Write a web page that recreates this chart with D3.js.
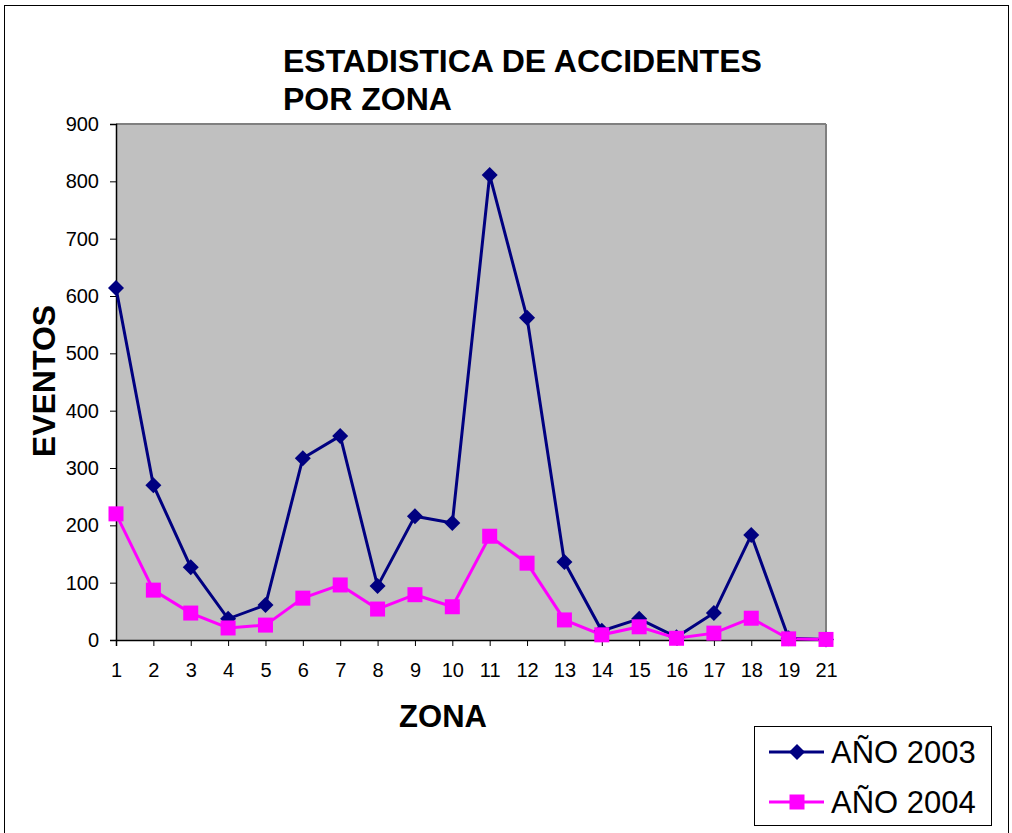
<!DOCTYPE html>
<html><head><meta charset="utf-8">
<script src="https://cdn.jsdelivr.net/npm/d3@7"></script>
<style>body{margin:0;background:#fff}svg{display:block}text{font-family:"Liberation Sans",Arial,sans-serif}</style>
</head><body>
<script>
const zonas = ["1","2","3","4","5","6","7","8","9","10","11","12","13","14","15","16","17","18","19","21"];
const anio2003 = [614,270,127,37,61,317,356,94,216,204,811,562,136,16,37,5,47,183,3,1];
const anio2004 = [220,87,47,21,26,73,96,54,79,58,181,134,35,9,23,3,12,38,2,1];
const yTicks = [0,100,200,300,400,500,600,700,800,900];
const seriesNames = ["AÑO 2003","AÑO 2004"];
const colors = ["#000080","#FF00FF"];

const W=1012,H=833;
const svg=d3.select("body").append("svg").attr("width",W).attr("height",H);
svg.append("rect").attr("x",4.5).attr("y",5.5).attr("width",1004).attr("height",840).attr("fill","#fff").attr("stroke","#000").attr("stroke-width",1);

const L=116,R=826,T=124,B=640;
const x=d3.scalePoint().domain(zonas).range([L,R]).padding(0);
const y=d3.scaleLinear().domain([0,900]).range([B,T]);

svg.append("rect").attr("x",L).attr("y",T).attr("width",R-L).attr("height",B-T).attr("fill","#C0C0C0");
svg.append("line").attr("x1",L).attr("x2",R).attr("y1",T).attr("y2",T).attr("stroke","#808080").attr("stroke-width",2);
svg.append("line").attr("x1",R).attr("x2",R).attr("y1",T).attr("y2",B).attr("stroke","#808080").attr("stroke-width",2);

const ya=svg.append("g").attr("transform",`translate(${L},0)`)
  .call(d3.axisLeft(y).tickValues(yTicks).tickSize(6).tickPadding(11));
ya.select(".domain").attr("stroke","#000").attr("stroke-width",1.5);
ya.selectAll(".tick line").attr("stroke","#000");
ya.selectAll("text").attr("font-size",20).attr("fill","#000").style("font-family","Liberation Sans, Arial");

const xa=svg.append("g").attr("transform",`translate(0,${B})`)
  .call(d3.axisBottom(x).tickSize(6).tickPadding(17));
xa.select(".domain").attr("stroke","#000").attr("stroke-width",1.5);
xa.selectAll(".tick line").attr("stroke","#000");
xa.selectAll("text").attr("font-size",20).attr("fill","#000").style("font-family","Liberation Sans, Arial");

const data=[anio2003,anio2004];
const line=d3.line().x((d,i)=>x(zonas[i])).y(d=>y(d));
data.forEach((s,k)=>{
  svg.append("path").datum(s).attr("d",line).attr("fill","none").attr("stroke",colors[k]).attr("stroke-width",3);
});
function marker(g,k,cx,cy){
  if(k===0){
    g.append("path").attr("d",`M${cx},${cy-8}L${cx+8},${cy}L${cx},${cy+8}L${cx-8},${cy}Z`).attr("fill",colors[0]);
  } else {
    g.append("rect").attr("x",cx-7.5).attr("y",cy-7.5).attr("width",15).attr("height",15).attr("fill",colors[1]);
  }
}
data.forEach((s,k)=>{
  const g=svg.append("g");
  s.forEach((d,i)=>marker(g,k,x(zonas[i]),y(d)));
});

svg.append("text").attr("x",283).attr("y",72).attr("font-size",32).attr("font-weight","bold").text("ESTADISTICA DE ACCIDENTES");
svg.append("text").attr("x",283).attr("y",110).attr("font-size",32).attr("font-weight","bold").text("POR ZONA");
svg.append("text").attr("transform","translate(55,381) rotate(-90)").attr("text-anchor","middle").attr("font-size",32).attr("font-weight","bold").text("EVENTOS");
svg.append("text").attr("x",443).attr("y",727).attr("text-anchor","middle").attr("font-size",31).attr("font-weight","bold").text("ZONA");

const lg=svg.append("g");
lg.append("rect").attr("x",754.5).attr("y",726.5).attr("width",237).attr("height",99).attr("fill","#fff").attr("stroke","#000").attr("stroke-width",1);
seriesNames.forEach((n,k)=>{
  const cy=752+k*50;
  lg.append("line").attr("x1",769).attr("x2",824).attr("y1",cy).attr("y2",cy).attr("stroke",colors[k]).attr("stroke-width",3);
  marker(lg,k,797,cy);
  lg.append("text").attr("x",831).attr("y",cy+11).attr("font-size",31).text(n);
});
</script>
</body></html>
